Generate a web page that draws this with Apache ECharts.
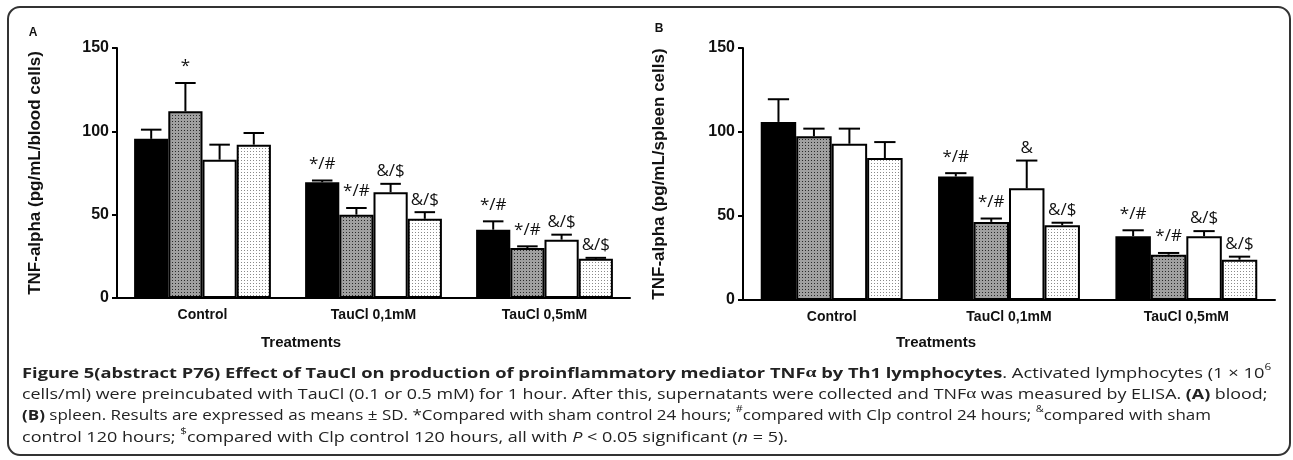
<!DOCTYPE html>
<html><head><meta charset="utf-8">
<script src="https://cdn.jsdelivr.net/npm/echarts@6/dist/echarts.min.js"></script>
<style>html,body{margin:0;padding:0;background:#fff}#c{width:1293px;height:460px}</style>
</head><body><div id="c"></div>
<script>
// ---- data ----
const categories = ['Control', 'TauCl 0,1mM', 'TauCl 0,5mM'];
const yTicks = [0, 50, 100, 150];

// Panel A (blood cells): means and SD
const blackA = [95.5, 69.5, 41];
const blackA_sd = [5.5, 1, 5];
const greyA = [112, 50, 30];
const greyA_sd = [17, 4, 1];
const whiteA = [83, 63.5, 35];
const whiteA_sd = [9, 5, 3];
const dotA = [92, 47.5, 23.5];
const dotA_sd = [7, 4, 0.6];
const annBlackA = ['', '*/#', '*/#'];
const annGreyA = ['*', '*/#', '*/#'];
const annWhiteA = ['', '&/$', '&/$'];
const annDotA = ['', '&/$', '&/$'];

// Panel B (spleen cells): means and SD
const blackB = [106, 73.5, 38];
const blackB_sd = [13.5, 2, 3.5];
const greyB = [97.5, 46.5, 27];
const greyB_sd = [4.5, 2, 1];
const whiteB = [93, 66.5, 38];
const whiteB_sd = [9, 16.5, 3];
const dotB = [84.5, 44.5, 24];
const dotB_sd = [9.5, 1.5, 1.8];
const annBlackB = ['', '*/#', '*/#'];
const annGreyB = ['', '*/#', '*/#'];
const annWhiteB = ['', '&', '&/$'];
const annDotB = ['', '&/$', '&/$'];

// ---- styles ----
function makePattern(bg, dot) {
  const c = document.createElement('canvas');
  c.width = 3; c.height = 3;
  const g = c.getContext('2d');
  g.fillStyle = bg; g.fillRect(0, 0, 3, 3);
  g.fillStyle = dot; g.fillRect(1, 1, 1, 1);
  return { image: c, repeat: 'repeat' };
}
const fills = ['#000', makePattern('#a0a0a0', '#2a2a2a'), '#fff', makePattern('#ffffff', '#8a8a8a')];

const chart = echarts.init(document.getElementById('c'), null, { renderer: 'canvas' });

const panels = [
  { vals: [blackA, greyA, whiteA, dotA], sds: [blackA_sd, greyA_sd, whiteA_sd, dotA_sd], anns: [annBlackA, annGreyA, annWhiteA, annDotA] },
  { vals: [blackB, greyB, whiteB, dotB], sds: [blackB_sd, greyB_sd, whiteB_sd, dotB_sd], anns: [annBlackB, annGreyB, annWhiteB, annDotB] }
];

function errRender(i, anns) {
  return function (params, api) {
    const cat = api.value(0);
    const band = api.size([1, 0])[0];
    const bw = band * 0.8 / 4;
    const xc = api.coord([cat, 0])[0] - band * 0.4 + bw * (i + 0.5);
    const yTop = api.coord([cat, api.value(1)])[1];
    const yErr = api.coord([cat, api.value(1) + api.value(2)])[1];
    const cap = bw * 0.6;
    const children = [
      { type: 'line', shape: { x1: xc, y1: yTop, x2: xc, y2: yErr }, style: { stroke: '#000', lineWidth: 2 } },
      { type: 'line', shape: { x1: xc - cap / 2, y1: yErr, x2: xc + cap / 2, y2: yErr }, style: { stroke: '#000', lineWidth: 2 } }
    ];
    const t = anns[params.dataIndex];
    if (t) {
      const lift = t.indexOf('*') >= 0 ? 8 : 4;
      children.push({ type: 'text', x: xc, y: yErr - lift,
        style: { text: t, align: 'center', verticalAlign: 'bottom', fontFamily: 'Open Sans', fontSize: 17, fill: '#111' } });
    }
    return { type: 'group', children };
  };
}

const series = [];
panels.forEach((p, pi) => {
  p.vals.forEach((v, i) => {
    series.push({
      type: 'bar', xAxisIndex: pi, yAxisIndex: pi, data: v,
      barGap: '0%', barCategoryGap: '20%',
      itemStyle: { color: fills[i], borderColor: '#000', borderWidth: 2 },
      silent: true, animation: false
    });
  });
  p.vals.forEach((v, i) => {
    series.push({
      type: 'custom', xAxisIndex: pi, yAxisIndex: pi,
      data: v.map((val, k) => [k, val, p.sds[i][k]]),
      renderItem: errRender(i, p.anns[i]),
      silent: true, animation: false, z: 3
    });
  });
});

function xAxis(gi) {
  return {
    type: 'category', gridIndex: gi, data: categories,
    axisLine: { lineStyle: { color: '#000', width: 2 } },
    axisTick: { alignWithLabel: true, length: 7, lineStyle: { color: '#000', width: 2 } },
    axisLabel: { color: '#111', fontFamily: 'Arial', fontWeight: 'bold', fontSize: 14, margin: 10 }
  };
}
function yAxis(gi, name, gap) {
  return {
    type: 'value', gridIndex: gi, min: yTicks[0], max: yTicks[yTicks.length - 1], interval: 50,
    name: name, nameLocation: 'middle', nameGap: gap, nameRotate: 90,
    nameTextStyle: { color: '#111', fontFamily: 'Arial', fontWeight: 'bold', fontSize: 17 },
    axisLine: { show: true, lineStyle: { color: '#000', width: 2 } },
    axisTick: { show: true, length: 5, lineStyle: { color: '#000', width: 2 } },
    splitLine: { show: false },
    axisLabel: { color: '#111', fontFamily: 'Arial', fontWeight: 'bold', fontSize: 16, margin: 8 }
  };
}

const capFont = 'Open Sans';
const rich = {
  b: { fontFamily: capFont, fontSize: 14, fontWeight: 'bold', lineHeight: 18, verticalAlign: 'bottom', fill: '#222' },
  n: { fontFamily: capFont, fontSize: 14, lineHeight: 18, verticalAlign: 'bottom', fill: '#222' },
  i: { fontFamily: capFont, fontSize: 14, fontStyle: 'italic', lineHeight: 18, verticalAlign: 'bottom', fill: '#222' },
  ab: { fontFamily: 'Liberation Serif', fontSize: 15, fontWeight: 'bold', lineHeight: 18, verticalAlign: 'bottom', fill: '#222' },
  an: { fontFamily: 'Liberation Serif', fontSize: 15, lineHeight: 18, verticalAlign: 'bottom', fill: '#222' },
  s: { fontFamily: capFont, fontSize: 9, lineHeight: 9, verticalAlign: 'top', fill: '#222' }
};
const captionLines = [
  '{b|Figure 5(abstract P76) Effect of TauCl on production of proinflammatory mediator TNF}{ab|α}{b| by Th1 lymphocytes}{n|. Activated lymphocytes (1 × 10}{s|6}',
  '{n|cells/ml) were preincubated with TauCl (0.1 or 0.5 mM) for 1 hour. After this, supernatants were collected and TNF}{an|α}{n| was measured by ELISA. }{b|(A)}{n| blood;}',
  '{b|(B)}{n| spleen. Results are expressed as means ± SD. *Compared with sham control 24 hours; }{s|#}{n|compared with Clp control 24 hours; }{s|&}{n|compared with sham}',
  '{n|control 120 hours; }{s|$}{n|compared with Clp control 120 hours, all with }{i|P}{n| < 0.05 significant (}{i|n}{n| = 5).}'
];
const captionY = [372, 393, 414, 436];
const captionStretch = [1.307, 1.276, 1.214, 1.287];

const graphic = [
  { type: 'rect', shape: { x: 8, y: 7, width: 1282, height: 448, r: 12 }, style: { fill: 'none', stroke: '#333', lineWidth: 2 }, silent: true },
  { type: 'text', x: 33, y: 33, style: { text: 'A', fontFamily: 'Arial', fontWeight: 'bold', fontSize: 12, fill: '#111', align: 'center', verticalAlign: 'middle' } },
  { type: 'text', x: 659, y: 29, style: { text: 'B', fontFamily: 'Arial', fontWeight: 'bold', fontSize: 12, fill: '#111', align: 'center', verticalAlign: 'middle' } },
  { type: 'text', x: 301, y: 343, style: { text: 'Treatments', fontFamily: 'Arial', fontWeight: 'bold', fontSize: 15, fill: '#111', align: 'center', verticalAlign: 'middle' } },
  { type: 'text', x: 936, y: 343, style: { text: 'Treatments', fontFamily: 'Arial', fontWeight: 'bold', fontSize: 15, fill: '#111', align: 'center', verticalAlign: 'middle' } }
];
captionLines.forEach((t, k) => {
  graphic.push({ type: 'text', x: 22, y: captionY[k], scaleX: captionStretch[k], originX: 0, originY: 0,
    style: { text: t, rich: rich, align: 'left', verticalAlign: 'middle' } });
});

chart.setOption({
  animation: false,
  backgroundColor: '#fff',
  grid: [
    { left: 117, top: 48, width: 513, height: 250 },
    { left: 743, top: 48, width: 532, height: 252 }
  ],
  xAxis: [xAxis(0), xAxis(1)],
  yAxis: [yAxis(0, 'TNF-alpha (pg/mL/blood cells)', 73), yAxis(1, 'TNF-alpha (pg/mL/spleen cells)', 75)],
  series: series,
  graphic: graphic
});
</script>
</body></html>
